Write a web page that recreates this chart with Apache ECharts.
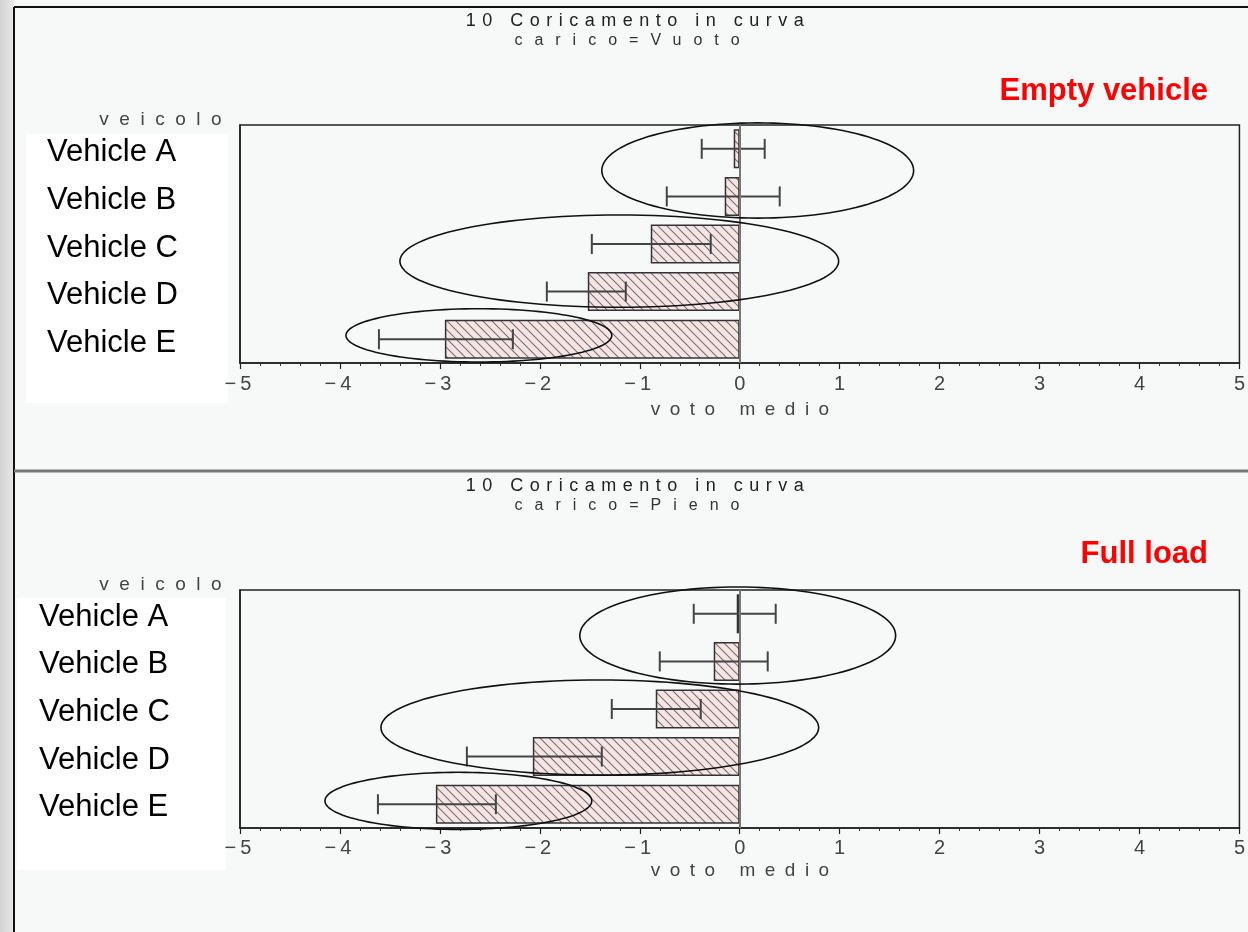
<!DOCTYPE html>
<html>
<head>
<meta charset="utf-8">
<script src="https://cdn.jsdelivr.net/npm/echarts@6/dist/echarts.min.js"></script>
<style>
html,body{margin:0;padding:0;background:#f6f9f7;}
#chart{width:1248px;height:932px;}
</style>
</head>
<body>
<div id="chart"></div>
<script>
// ---------------- data ----------------
const categories = ['Vehicle A', 'Vehicle B', 'Vehicle C', 'Vehicle D', 'Vehicle E'];
const xTicks = [-5, -4, -3, -2, -1, 0, 1, 2, 3, 4, 5];

const panelTitles = ['10 Coricamento in curva', '10 Coricamento in curva'];
const panelSubtitles = ['carico=Vuoto', 'carico=Pieno'];
const panelLabels = ['Empty vehicle', 'Full load'];
const yAxisName = 'veicolo';
const xAxisName = 'voto medio';

// Empty vehicle (carico=Vuoto)
const vuotoMean = [-0.06, -0.15, -0.89, -1.52, -2.95];
const vuotoLow  = [-0.38, -0.73, -1.48, -1.93, -3.61];
const vuotoHigh = [0.25, 0.40, -0.29, -1.14, -2.27];
// Full load (carico=Pieno)
const pienoMean = [-0.03, -0.26, -0.84, -2.07, -3.04];
const pienoLow  = [-0.46, -0.80, -1.28, -2.73, -3.62];
const pienoHigh = [0.36, 0.28, -0.39, -1.38, -2.44];

// Annotation ellipses (x in axis units, y in category units)
const vuotoEllCx = [0.18, -1.205, -2.61];
const vuotoEllCy = [0.456, 2.36, 3.92];
const vuotoEllRx = [1.56, 2.195, 1.33];
const vuotoEllRy = [1.0, 0.97, 0.56];
const pienoEllCx = [-0.02, -1.40, -2.815];
const pienoEllCy = [0.457, 2.39, 3.93];
const pienoEllRx = [1.58, 2.19, 1.335];
const pienoEllRy = [1.02, 1.0, 0.60];

// ---------------- letter spacing for the SAS-style texts ----------------
const SPACING = {
  '10 Coricamento in curva': 6.5,
  'carico=Vuoto': 12,
  'carico=Pieno': 12,
  'veicolo': 10.5,
  'voto medio': 9.5
};
(function () {
  const proto = CanvasRenderingContext2D.prototype;
  const orig = proto.fillText;
  proto.fillText = function (t, x, y, w) {
    if ('letterSpacing' in this) {
      let sp = SPACING[t];
      if (sp === undefined && typeof t === 'string' && t.charAt(0) === '\u2212') sp = 4;
      const f = this.font;
      this.letterSpacing = (sp || 0) + 'px';
      this.font = f;
    }
    return w === undefined ? orig.call(this, t, x, y) : orig.call(this, t, x, y, w);
  };
})();

// ---------------- helpers ----------------
function hatchPattern() {
  const s = 9;
  const c = document.createElement('canvas');
  c.width = s; c.height = s;
  const g = c.getContext('2d');
  g.fillStyle = '#f5e5e5';
  g.fillRect(0, 0, s, s);
  g.strokeStyle = '#7d6e6e';
  g.lineWidth = 1.1;
  g.beginPath();
  g.moveTo(-1, -1); g.lineTo(s + 1, s + 1);
  g.moveTo(s - 2, -2); g.lineTo(s + 2, 2);
  g.moveTo(-2, s - 2); g.lineTo(2, s + 2);
  g.stroke();
  return c;
}
const pattern = hatchPattern();

function errRender(params, api) {
  const cat = api.value(0), lo = api.value(1), hi = api.value(2);
  const p1 = api.coord([lo, cat]);
  const p2 = api.coord([hi, cat]);
  const h = 10;
  const st = { stroke: '#444', lineWidth: 2 };
  return {
    type: 'group',
    children: [
      { type: 'line', shape: { x1: p1[0], y1: p1[1], x2: p2[0], y2: p2[1] }, style: st },
      { type: 'line', shape: { x1: p1[0], y1: p1[1] - h, x2: p1[0], y2: p1[1] + h }, style: st },
      { type: 'line', shape: { x1: p2[0], y1: p2[1] - h, x2: p2[0], y2: p2[1] + h }, style: st }
    ]
  };
}

function ellRender(params, api) {
  const cx = api.value(0), cy = api.value(1), rx = api.value(2), ry = api.value(3);
  const c0 = api.coord([cx, 0]);
  const c1 = api.coord([cx, 1]);
  const step = c1[1] - c0[1];
  const xu = api.size([1, 0])[0];
  const X = c0[0], Y = c0[1] + cy * step, RX = rx * xu, RY = ry * Math.abs(step);
  const pts = [];
  const n = 120;
  for (let k = 0; k < n; k++) {
    const a = (k / n) * Math.PI * 2;
    pts.push([X + RX * Math.cos(a), Y + RY * Math.sin(a)]);
  }
  return { type: 'polygon', shape: { points: pts }, style: { fill: 'none', stroke: '#111', lineWidth: 1.6 } };
}

function errData(lo, hi) { return categories.map((c, i) => [i, lo[i], hi[i]]); }
function ellData(cx, cy, rx, ry) { return cx.map((v, i) => [v, cy[i], rx[i], ry[i]]); }

const FONT = 'Liberation Sans, Arial, sans-serif';
const gridTops = [125, 590];
const gridH = 238;
const labelMargins = [193, 201];
const labelShift = [8, 7];
const nameGaps = [37, 33];
const panelOffset = 465;

function xAxisFor(i) {
  return {
    type: 'value', gridIndex: i, min: xTicks[0], max: xTicks[xTicks.length - 1], interval: 1,
    name: xAxisName, nameLocation: 'middle', nameGap: nameGaps[i],
    nameTextStyle: { fontFamily: FONT, fontSize: 19, color: '#444', padding: [0, 0, 0, 10] },
    axisLine: { show: true, onZero: false, lineStyle: { color: '#222', width: 1.5 } },
    axisTick: { show: true, length: 6, lineStyle: { color: '#222', width: 1.2 } },
    minorTick: { show: true, splitNumber: 5, length: 3, lineStyle: { color: '#333', width: 1 } },
    splitLine: { show: false },
    axisLabel: {
      margin: i === 0 ? 11 : 10, fontFamily: FONT, fontSize: 20, color: '#444',
      formatter: v => (v < 0 ? '\u2212' + Math.abs(v) : String(v))
    }
  };
}
function yAxisFor(i) {
  return {
    type: 'category', gridIndex: i, inverse: true, data: categories,
    name: yAxisName, nameLocation: 'start', nameGap: 5,
    nameTextStyle: { fontFamily: FONT, fontSize: 19, color: '#444', align: 'right', verticalAlign: 'middle', padding: [0, 8, 0, 0] },
    axisLine: { show: true, onZero: false, lineStyle: { color: '#222', width: 1.5 } },
    axisTick: { show: false },
    axisLabel: {
      align: 'left', verticalAlign: 'top', lineHeight: labelShift[i],
      margin: labelMargins[i], fontFamily: FONT, fontSize: 31, color: '#000'
    }
  };
}
function barSeries(i, vals) {
  return {
    type: 'bar', xAxisIndex: i, yAxisIndex: i, data: vals, barCategoryGap: '18%',
    itemStyle: { color: { image: pattern, repeat: 'repeat' }, borderColor: '#333', borderWidth: 1.5 },
    silent: true, z: 2,
    markLine: {
      silent: true, symbol: 'none', label: { show: false },
      lineStyle: { color: '#777', type: 'solid', width: 2 },
      data: [{ xAxis: 0 }]
    }
  };
}

const titles = [];
for (let i = 0; i < 2; i++) {
  const off = i * panelOffset;
  titles.push({ text: panelTitles[i], left: 638, top: 11 + off, textAlign: 'center', padding: 0,
    textStyle: { fontFamily: FONT, fontSize: 18, lineHeight: 20, fontWeight: 'normal', color: '#222' } });
  titles.push({ text: panelSubtitles[i], left: 633, top: 32 + off, textAlign: 'center', padding: 0,
    textStyle: { fontFamily: FONT, fontSize: 16, lineHeight: 18, fontWeight: 'normal', color: '#333' } });
}
titles.push({ text: panelLabels[0], right: 40, top: 76, padding: 0,
  textStyle: { fontFamily: FONT, fontSize: 31, lineHeight: 31, fontWeight: 'bold', color: '#ff0000' } });
titles.push({ text: panelLabels[1], right: 40, top: 539, padding: 0,
  textStyle: { fontFamily: FONT, fontSize: 31, lineHeight: 31, fontWeight: 'bold', color: '#ff0000' } });

const chart = echarts.init(document.getElementById('chart'), null, { renderer: 'canvas' });
chart.setOption({
  backgroundColor: '#f6f9f7',
  animation: false,
  title: titles,
  graphic: [
    { type: 'rect', z: -10, shape: { x: 0, y: 0, width: 14, height: 932 },
      style: { fill: new echarts.graphic.LinearGradient(0, 0, 1, 0, [{ offset: 0, color: '#d2d2d2' }, { offset: 1, color: '#e9e9e9' }]) } },
    { type: 'rect', z: -10, shape: { x: 26, y: 134, width: 202, height: 269 }, style: { fill: '#ffffff' } },
    { type: 'rect', z: -10, shape: { x: 17, y: 598, width: 209, height: 272 }, style: { fill: '#ffffff' } },
    { type: 'line', z: -5, shape: { x1: 14, y1: 7, x2: 14, y2: 932 }, style: { stroke: '#111', lineWidth: 2 } },
    { type: 'line', z: -5, shape: { x1: 14, y1: 7, x2: 1248, y2: 7 }, style: { stroke: '#111', lineWidth: 2 } },
    { type: 'line', z: -5, shape: { x1: 14, y1: 471, x2: 1248, y2: 471 }, style: { stroke: '#777', lineWidth: 3 } }
  ],
  grid: [
    { left: 240, right: 6, top: gridTops[0], height: gridH, show: true, borderColor: '#222', borderWidth: 1.5, backgroundColor: 'transparent' },
    { left: 240, right: 6, top: gridTops[1], height: gridH, show: true, borderColor: '#222', borderWidth: 1.5, backgroundColor: 'transparent' }
  ],
  xAxis: [xAxisFor(0), xAxisFor(1)],
  yAxis: [yAxisFor(0), yAxisFor(1)],
  series: [
    barSeries(0, vuotoMean),
    barSeries(1, pienoMean),
    { type: 'custom', xAxisIndex: 0, yAxisIndex: 0, renderItem: errRender, data: errData(vuotoLow, vuotoHigh),
      encode: { x: [1, 2], y: 0 }, z: 4, silent: true, clip: false },
    { type: 'custom', xAxisIndex: 1, yAxisIndex: 1, renderItem: errRender, data: errData(pienoLow, pienoHigh),
      encode: { x: [1, 2], y: 0 }, z: 4, silent: true, clip: false },
    { type: 'custom', xAxisIndex: 0, yAxisIndex: 0, renderItem: ellRender,
      data: ellData(vuotoEllCx, vuotoEllCy, vuotoEllRx, vuotoEllRy), encode: { x: 0, y: 1 }, z: 5, silent: true, clip: false },
    { type: 'custom', xAxisIndex: 1, yAxisIndex: 1, renderItem: ellRender,
      data: ellData(pienoEllCx, pienoEllCy, pienoEllRx, pienoEllRy), encode: { x: 0, y: 1 }, z: 5, silent: true, clip: false }
  ]
});
</script>
</body>
</html>
